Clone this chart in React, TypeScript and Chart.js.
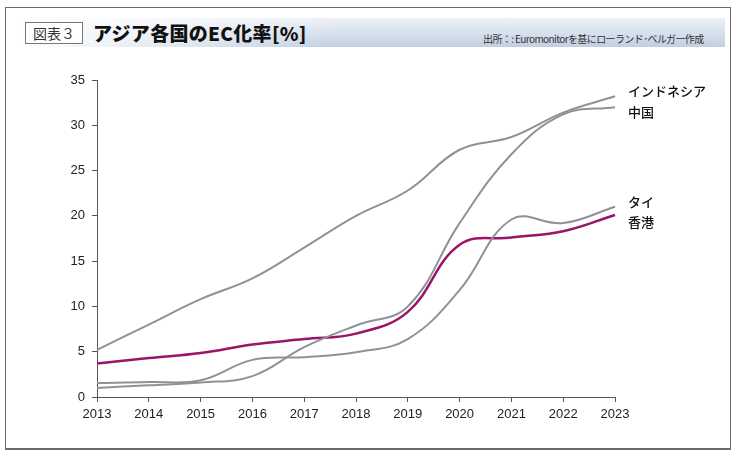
import React, { useEffect, useRef } from "react";
import { Chart, registerables } from "chart.js";

Chart.register(...registerables);

const years = ["2013", "2014", "2015", "2016", "2017", "2018", "2019", "2020", "2021", "2022", "2023"];
const indonesia = [5.2, 8.0, 10.8, 13.1, 16.5, 20.0, 22.8, 27.3, 28.7, 31.4, 33.2];
const china = [1.0, 1.3, 1.6, 2.3, 5.5, 7.9, 10.0, 19.2, 26.8, 31.2, 32.0];
const thailand = [1.55, 1.65, 1.85, 4.1, 4.4, 4.95, 6.4, 11.8, 19.6, 19.2, 21.0];
const hongkong = [3.7, 4.3, 4.85, 5.8, 6.4, 7.0, 9.4, 16.8, 17.6, 18.3, 20.1];
const seriesNames = ["インドネシア", "中国", "タイ", "香港"];
const labelOffsets = [-5, 5, -5, 7];
const yTicks = [0, 5, 10, 15, 20, 25, 30, 35];

const GRAY = "#8e9297";
const PURPLE = "#9a1468";
const FONT = "'Liberation Sans', Arial, sans-serif";
const JP = "'Noto Sans CJK JP', 'Noto Sans', sans-serif";

const endLabels = {
  id: "endLabels",
  afterDraw(chart: any) {
    const ctx = chart.ctx;
    const ys = chart.scales.y;
    const x = chart.chartArea.right + 13;
    ctx.save();
    ctx.font = `500 13px ${JP}`;
    ctx.fillStyle = "#111";
    ctx.textAlign = "left";
    ctx.textBaseline = "middle";
    chart.data.datasets.forEach((ds: any, i: number) => {
      const v = ds.data[ds.data.length - 1];
      ctx.fillText(seriesNames[i], x, ys.getPixelForValue(v) + labelOffsets[i]);
    });
    ctx.restore();
  },
};

function ChartView() {
  const ref = useRef<HTMLCanvasElement | null>(null);
  useEffect(() => {
    if (!ref.current) return;
    const mk = (label: string, data: number[], color: string, w: number) => ({
      label,
      data,
      borderColor: color,
      backgroundColor: color,
      borderWidth: w,
      pointRadius: 0,
      tension: 0.4,
      fill: false,
    });
    const chart = new Chart(ref.current, {
      type: "line",
      data: {
        labels: years,
        datasets: [
          mk(seriesNames[0], indonesia, GRAY, 2),
          mk(seriesNames[1], china, GRAY, 2),
          mk(seriesNames[2], thailand, GRAY, 2),
          mk(seriesNames[3], hongkong, PURPLE, 2.5),
        ],
      },
      options: {
        animation: false,
        responsive: false,
        maintainAspectRatio: false,
        layout: { padding: { left: 0, right: 125, top: 80, bottom: 0 } },
        plugins: { legend: { display: false }, tooltip: { enabled: false } },
        scales: {
          x: {
            type: "category",
            offset: false,
            afterFit: (s: any) => {
              s.height = 61;
            },
            grid: { display: true, drawOnChartArea: false, drawTicks: true, tickLength: 5, color: "#555" },
            border: { display: true, color: "#555", width: 1 },
            ticks: { color: "#222", font: { family: FONT, size: 13 }, padding: 5, maxRotation: 0, autoSkip: false },
          },
          y: {
            min: 0,
            max: 35,
            afterFit: (s: any) => {
              s.width = 97;
            },
            afterBuildTicks: (s: any) => {
              s.ticks = yTicks.map((v) => ({ value: v }));
            },
            grid: { display: true, drawOnChartArea: false, drawTicks: true, tickLength: 5, color: "#555" },
            border: { display: true, color: "#555", width: 1 },
            ticks: { color: "#222", font: { family: FONT, size: 13 }, padding: 7 },
          },
        },
      },
      plugins: [endLabels],
    });
    return () => chart.destroy();
  }, []);
  return <canvas ref={ref} width={740} height={458} style={{ position: "absolute", left: 0, top: 0 }} />;
}

export default function App() {
  return (
    <div style={{ position: "fixed", left: 0, top: 0, width: 740, height: 458, background: "#fff", overflow: "hidden" }}>
      <div
        style={{
          position: "absolute",
          left: 5,
          top: 7,
          width: 726,
          height: 443,
          borderTop: "1.5px solid #6a6a6a",
          borderLeft: "1.5px solid #6a6a6a",
          borderRight: "1.5px solid #6a6a6a",
          borderBottom: "2px solid #6a6a6a",
          boxSizing: "border-box",
        }}
      />
      <div
        style={{
          position: "absolute",
          left: 17,
          top: 18,
          width: 708,
          height: 29,
          background:
            "linear-gradient(to right, rgba(255,255,255,1) 0%, rgba(255,255,255,0) 45%), linear-gradient(to bottom, #eef2f8 0%, #c2cfe2 100%)",
        }}
      />
      <div
        style={{
          position: "absolute",
          left: 25,
          top: 22,
          width: 58,
          height: 22,
          background: "#fff",
          border: "1px solid #777",
          boxSizing: "border-box",
          fontFamily: JP,
          fontSize: 14,
          color: "#333",
          lineHeight: "20px",
          textAlign: "center",
        }}
      >
        図表３
      </div>
      <div
        style={{
          position: "absolute",
          left: 93,
          top: 19,
          fontFamily: JP,
          fontWeight: 900,
          fontSize: 19,
          color: "#111",
          lineHeight: "28px",
          letterSpacing: 0.3,
          whiteSpace: "nowrap",
        }}
      >
        アジア各国のEC化率[%]
      </div>
      <div
        style={{
          position: "absolute",
          left: 483,
          top: 32,
          fontFamily: JP,
          fontSize: 10,
          color: "#333",
          lineHeight: "14px",
          whiteSpace: "nowrap",
          letterSpacing: -0.6,
        }}
      >
        出所：: Euromonitorを基にローランド･ベルガー作成
      </div>
      <ChartView />
    </div>
  );
}
